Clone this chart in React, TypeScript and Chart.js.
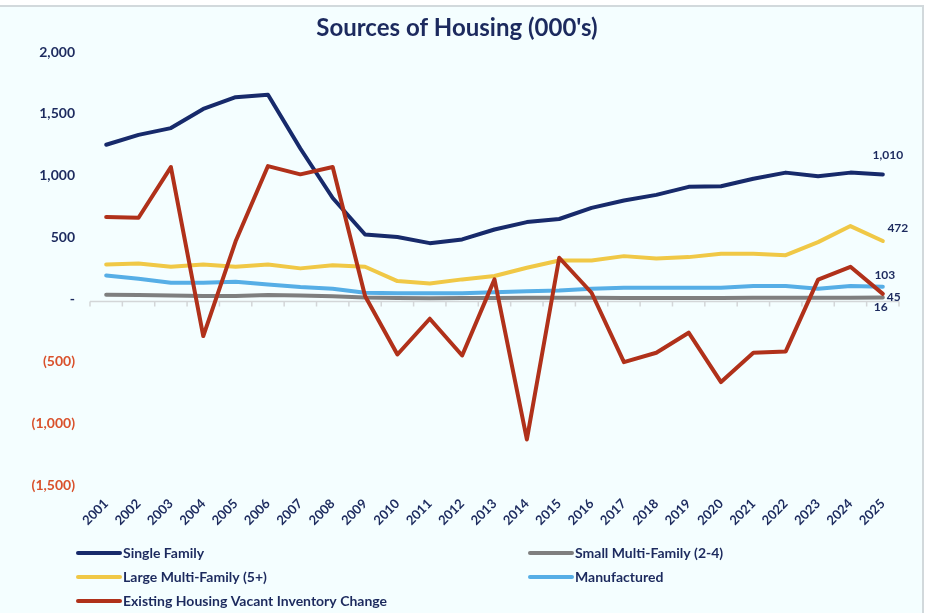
import React, { useEffect, useRef } from "react";
import { Chart, registerables } from "chart.js";

Chart.register(...registerables);

const years = ["2001","2002","2003","2004","2005","2006","2007","2008","2009","2010","2011","2012","2013","2014","2015","2016","2017","2018","2019","2020","2021","2022","2023","2024","2025"];
const singleFamily = [1250, 1330, 1385, 1540, 1635, 1655, 1220, 820, 525, 505, 455, 485, 565, 625, 650, 740, 800, 845, 910, 915, 975, 1025, 995, 1025, 1010];
const smallMultiFamily = [37, 35, 32, 27, 28, 35, 32, 25, 15, 12, 10, 11, 12, 13, 13, 13, 12, 12, 12, 12, 13, 14, 13, 14, 16];
const largeMultiFamily = [283, 291, 264, 283, 264, 283, 251, 277, 264, 148, 129, 162, 189, 256, 315, 315, 350, 331, 342, 369, 369, 358, 463, 593, 472];
const manufactured = [194, 167, 135, 135, 143, 121, 100, 86, 54, 49, 49, 49, 59, 67, 73, 86, 94, 94, 94, 94, 108, 108, 86, 108, 103];
const vacantChange = [666, 660, 1070, -296, 470, 1078, 1011, 1070, 27, -445, -156, -453, 162, -1132, 337, 54, -507, -431, -269, -668, -431, -420, 160, 264, 45];

const seriesNames = ["Single Family", "Small Multi-Family (2-4)", "Large Multi-Family (5+)", "Manufactured", "Existing Housing Vacant Inventory Change"];
const seriesColors = ["#172a6b", "#7f7f7f", "#f0c846", "#56aee6", "#b0311a"];

const NAVY = "#1c2a5e";
const NEG = "#d9512c";
const FONT = "Lato, 'Open Sans', sans-serif";

const fmt = (v: number) => Math.round(v).toLocaleString("en-US");

export default function App() {
  const ref = useRef<HTMLCanvasElement | null>(null);

  useEffect(() => {
    document.body.style.margin = "0";
    const canvas = ref.current;
    if (!canvas) return;

    const zeroAxis = {
      id: "zeroAxis",
      beforeDatasetsDraw(chart: any) {
        const { ctx, chartArea, scales } = chart;
        const y = scales.y.getPixelForValue(0) + 2;
        const n = years.length;
        const w = (chartArea.right - chartArea.left) / n;
        ctx.save();
        ctx.strokeStyle = "#d3d6d8";
        ctx.lineWidth = 1.5;
        ctx.beginPath();
        ctx.moveTo(chartArea.left, y);
        ctx.lineTo(chartArea.right, y);
        for (let i = 0; i <= n; i++) {
          const x = chartArea.left + i * w;
          ctx.moveTo(x, y);
          ctx.lineTo(x, y + 5);
        }
        ctx.stroke();
        ctx.restore();
      },
    };

    const labelOffsets: [number, number][] = [[5, -19], [-2, 10], [15, -13], [2, -12], [11, 3]];

    const extras = {
      id: "extras",
      afterDraw(chart: any) {
        const { ctx } = chart;
        ctx.save();
        // title
        ctx.fillStyle = NAVY;
        ctx.font = `bold 24px ${FONT}`;
        ctx.textAlign = "center";
        ctx.textBaseline = "middle";
        ctx.fillText("Sources of Housing (000's)", 457, 28);
        // end labels
        ctx.font = `bold 12px ${FONT}`;
        chart.data.datasets.forEach((ds: any, i: number) => {
          const meta = chart.getDatasetMeta(i);
          const last = meta.data[meta.data.length - 1];
          const v = ds.data[ds.data.length - 1];
          const [dx, dy] = labelOffsets[i];
          ctx.fillStyle = NAVY;
          ctx.fillText(fmt(v), last.x + dx, last.y + dy);
        });
        // legend
        const pos: [number, number][] = [[78, 553], [530, 553], [78, 577], [530, 577], [78, 601]];
        ctx.textAlign = "left";
        ctx.font = `bold 14px ${FONT}`;
        seriesNames.forEach((name, i) => {
          const [x, y] = pos[i];
          ctx.strokeStyle = seriesColors[i];
          ctx.lineWidth = 4;
          ctx.lineCap = "round";
          ctx.beginPath();
          ctx.moveTo(x, y);
          ctx.lineTo(x + 42, y);
          ctx.stroke();
          ctx.fillStyle = NAVY;
          ctx.fillText(name, x + 45, y);
        });
        ctx.restore();
      },
    };

    const seriesData = [singleFamily, smallMultiFamily, largeMultiFamily, manufactured, vacantChange];
    const orders = [1, 4, 3, 2, 0];

    const chart = new Chart(canvas, {
      type: "line",
      data: {
        labels: years,
        datasets: seriesData.map((d, i) => ({
          label: seriesNames[i],
          data: d,
          borderColor: seriesColors[i],
          backgroundColor: seriesColors[i],
          borderWidth: 4,
          pointRadius: 0,
          tension: 0,
          borderJoinStyle: "round" as const,
          borderCapStyle: "round" as const,
          order: orders[i],
        })),
      },
      options: {
        responsive: false,
        maintainAspectRatio: false,
        animation: false,
        layout: { padding: { top: 52, right: 32, left: 0, bottom: 0 } },
        plugins: {
          legend: { display: false },
          title: { display: false },
          tooltip: { enabled: false },
        },
        scales: {
          x: {
            offset: true,
            grid: { display: false, drawTicks: false },
            border: { display: false },
            ticks: {
              autoSkip: false,
              minRotation: 45,
              maxRotation: 45,
              padding: 11,
              color: NAVY,
              font: { family: FONT, size: 13, weight: "bold" },
            },
            afterFit: (s: any) => { s.height = 128; },
          },
          y: {
            min: -1500,
            max: 2000,
            grid: { display: false, drawTicks: false },
            border: { display: false },
            ticks: {
              stepSize: 500,
              padding: 15,
              color: (c: any) => (c.tick && c.tick.value < 0 ? NEG : NAVY),
              font: { family: FONT, size: 14, weight: "bold" },
              callback: (v: any) => {
                const n = Number(v);
                if (n === 0) return "-";
                return n < 0 ? `(${fmt(-n)})` : fmt(n);
              },
            },
            afterFit: (s: any) => { s.width = 90; },
          },
        },
      },
      plugins: [zeroAxis, extras],
    });

    return () => chart.destroy();
  }, []);

  return (
    <div style={{ position: "relative", width: 931, height: 613, background: "#ffffff", overflow: "hidden" }}>
      <div
        style={{
          position: "absolute",
          left: -2,
          top: 5,
          width: 922,
          height: 606,
          border: "2px solid #d2d9dc",
          background: "#f4feff",
        }}
      />
      <canvas ref={ref} width={931} height={613} style={{ position: "absolute", left: 0, top: 0 }} />
    </div>
  );
}
